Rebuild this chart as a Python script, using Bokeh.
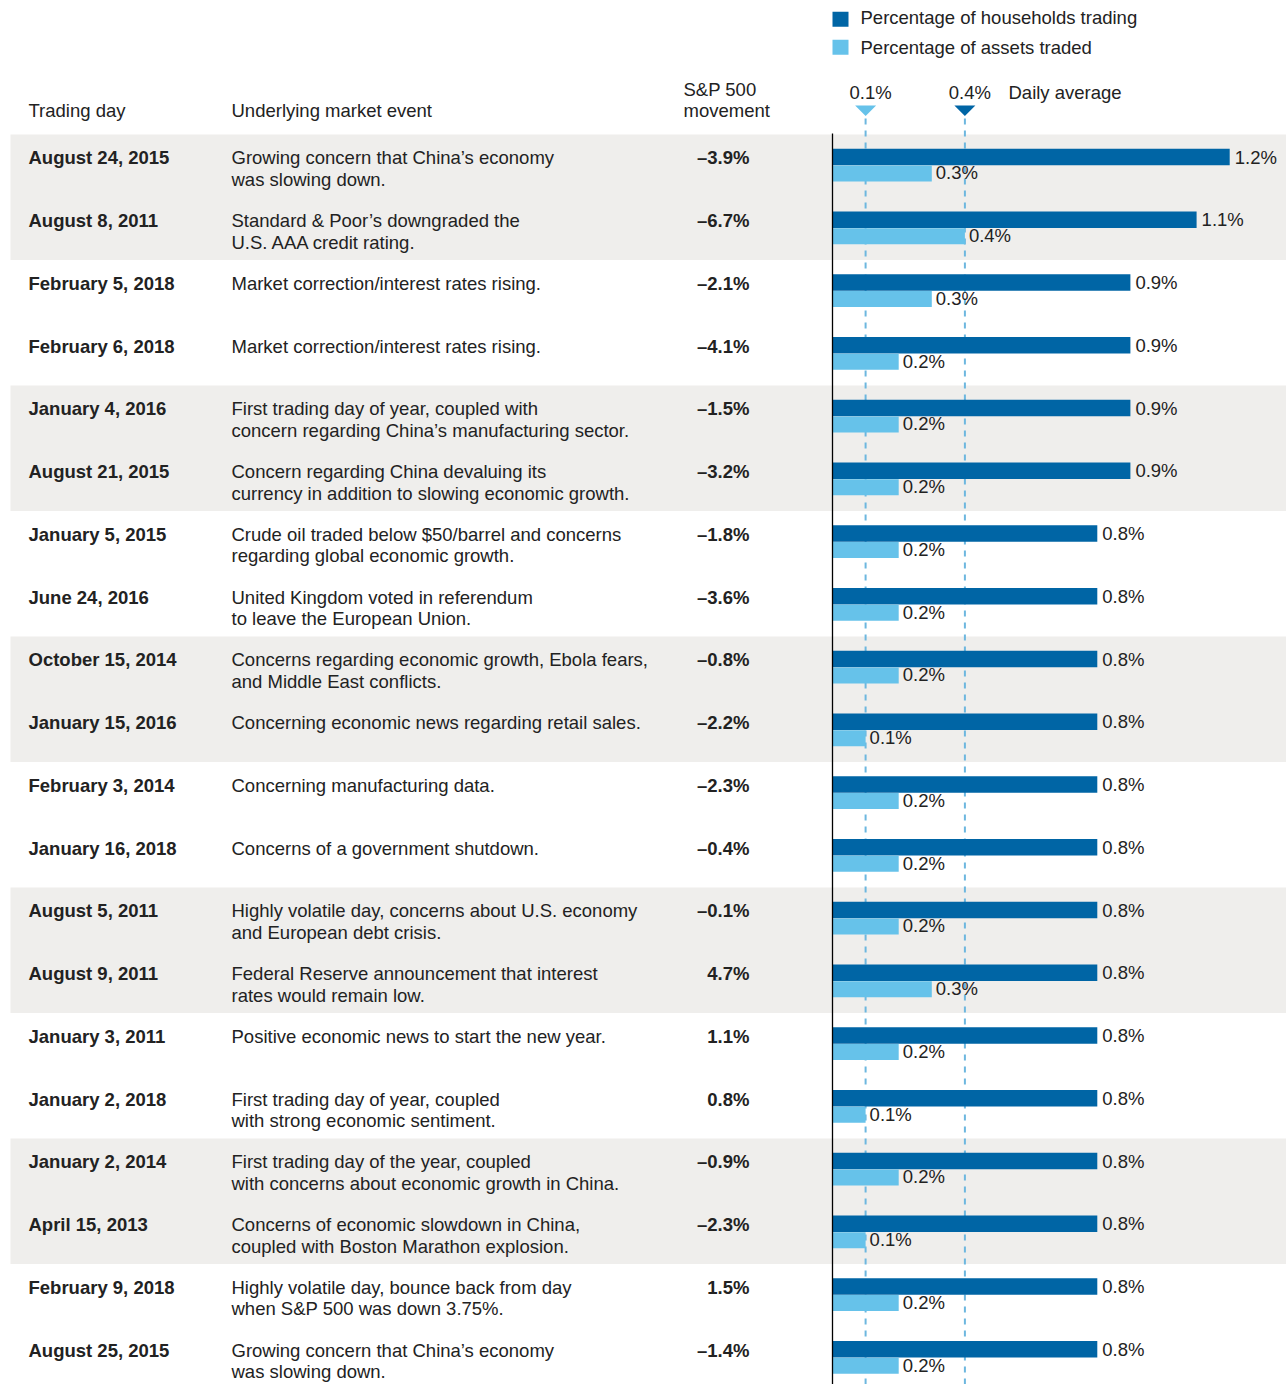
from bokeh.plotting import figure
from bokeh.models import Range1d, ColumnDataSource
from bokeh.core.properties import value
from bokeh.embed import file_html
from bokeh.resources import INLINE

# ---------------- data ----------------
trading_days = [
    "August 24, 2015", "August 8, 2011", "February 5, 2018", "February 6, 2018",
    "January 4, 2016", "August 21, 2015", "January 5, 2015", "June 24, 2016",
    "October 15, 2014", "January 15, 2016", "February 3, 2014", "January 16, 2018",
    "August 5, 2011", "August 9, 2011", "January 3, 2011", "January 2, 2018",
    "January 2, 2014", "April 15, 2013", "February 9, 2018", "August 25, 2015",
]
events = [
    "Growing concern that China\u2019s economy\nwas slowing down.",
    "Standard & Poor\u2019s downgraded the\nU.S. AAA credit rating.",
    "Market correction/interest rates rising.",
    "Market correction/interest rates rising.",
    "First trading day of year, coupled with\nconcern regarding China\u2019s manufacturing sector.",
    "Concern regarding China devaluing its\ncurrency in addition to slowing economic growth.",
    "Crude oil traded below $50/barrel and concerns\nregarding global economic growth.",
    "United Kingdom voted in referendum\nto leave the European Union.",
    "Concerns regarding economic growth, Ebola fears,\nand Middle East conflicts.",
    "Concerning economic news regarding retail sales.",
    "Concerning manufacturing data.",
    "Concerns of a government shutdown.",
    "Highly volatile day, concerns about U.S. economy\nand European debt crisis.",
    "Federal Reserve announcement that interest\nrates would remain low.",
    "Positive economic news to start the new year.",
    "First trading day of year, coupled\nwith strong economic sentiment.",
    "First trading day of the year, coupled\nwith concerns about economic growth in China.",
    "Concerns of economic slowdown in China,\ncoupled with Boston Marathon explosion.",
    "Highly volatile day, bounce back from day\nwhen S&P 500 was down 3.75%.",
    "Growing concern that China\u2019s economy\nwas slowing down.",
]
sp500_moves = [-3.9, -6.7, -2.1, -4.1, -1.5, -3.2, -1.8, -3.6, -0.8, -2.2,
               -2.3, -0.4, -0.1, 4.7, 1.1, 0.8, -0.9, -2.3, 1.5, -1.4]
households_pct = [1.2, 1.1, 0.9, 0.9, 0.9, 0.9, 0.8, 0.8, 0.8, 0.8,
                  0.8, 0.8, 0.8, 0.8, 0.8, 0.8, 0.8, 0.8, 0.8, 0.8]
assets_pct = [0.3, 0.4, 0.3, 0.2, 0.2, 0.2, 0.2, 0.2, 0.2, 0.1,
              0.2, 0.2, 0.2, 0.3, 0.2, 0.1, 0.2, 0.1, 0.2, 0.2]
series_names = ["Percentage of households trading", "Percentage of assets traded"]
daily_avg = [0.1, 0.4]            # assets traded, households trading
daily_avg_label = "Daily average"
headers = ["Trading day", "Underlying market event", "S&P 500\nmovement"]

# ---------------- style / layout ----------------
DARK = "#0065a5"
LIGHT = "#66c2ea"
SHADE = "#efeeec"
TXT = "#222222"
DASH = "#6db7df"
FONT = value("Liberation Sans")
FS = "18.5px"

PX_L, PX_R, PX_T, PX_B = 0, 1286, 0, 1384     # visible region (px)
BASE_X, PX_PER_PCT = 832, 331.0               # bar baseline, px per 1 %
ROW_TOP0, ROW_H = 134.0, 62.75                # first row top, row height
TDY = -7.0                                    # text vertical correction (px)
TR = TDY / ROW_H                              # same, in row units

def fmt_pct(v):
    return ("\u2013" if v < 0 else "") + f"{abs(v):.1f}%"

n = len(trading_days)
rows = list(range(n))

p = figure(width=PX_R - PX_L, height=PX_B - PX_T,
           x_range=Range1d(PX_L, PX_R), y_range=Range1d(PX_B, PX_T),
           x_axis_type=None, y_axis_type=None,
           toolbar_location=None, output_backend="svg",
           min_border=0, min_border_left=0, min_border_right=0,
           min_border_top=0, min_border_bottom=0)
p.outline_line_color = None
p.background_fill_color = "white"
p.border_fill_color = "white"
p.extra_x_ranges = {"pct": Range1d((PX_L - BASE_X) / PX_PER_PCT, (PX_R - BASE_X) / PX_PER_PCT)}
p.extra_y_ranges = {"row": Range1d((PX_B - ROW_TOP0) / ROW_H, (PX_T - ROW_TOP0) / ROW_H)}

# shaded bands (pairs of rows)
band_tops = [i for i in rows if i % 4 == 0]
p.quad(left=10, right=1300, top=band_tops, bottom=[t + 2 for t in band_tops],
       y_range_name="row", fill_color=SHADE, line_color=None)

# daily-average dashed lines and triangles
p.segment(x0=daily_avg, x1=daily_avg, y0=118, y1=PX_B + 10, x_range_name="pct",
          line_color=DASH, line_width=2, line_dash="6 6")
tw = 10.5 / PX_PER_PCT
p.patches(xs=[[a - tw, a + tw, a] for a in daily_avg], ys=[[105, 105, 115.5]] * 2,
          x_range_name="pct", fill_color=[LIGHT, DARK], line_color=None)
p.text(x=daily_avg, y=[98.5 + TDY] * 2, text=[fmt_pct(a) for a in daily_avg],
       x_range_name="pct", x_offset=5, text_align="center", text_baseline="alphabetic",
       text_font=FONT, text_font_size=FS, text_color=TXT)
p.text(x=[1008], y=[98.5 + TDY], text=[daily_avg_label], text_align="left",
       text_baseline="alphabetic", text_font=FONT, text_font_size=FS, text_color=TXT)

# bars
src = ColumnDataSource(dict(
    yh=[r + 0.359 for r in rows], ya=[r + 0.620 for r in rows],
    yhl=[r + 0.473 + TR for r in rows], yal=[r + 0.725 + TR for r in rows],
    hh=households_pct, aa=assets_pct,
    hlab=[fmt_pct(v) for v in households_pct], alab=[fmt_pct(v) for v in assets_pct],
))
p.hbar(y="yh", left=0, right="hh", height=0.261, source=src,
       x_range_name="pct", y_range_name="row", fill_color=DARK, line_color=None)
p.hbar(y="ya", left=0, right="aa", height=0.255, source=src,
       x_range_name="pct", y_range_name="row", fill_color=LIGHT, line_color=None)
p.text(x="hh", y="yhl", text="hlab", source=src, x_range_name="pct", y_range_name="row",
       x_offset=5, text_align="left", text_baseline="alphabetic",
       text_font=FONT, text_font_size=FS, text_color=TXT)
p.text(x="aa", y="yal", text="alab", source=src, x_range_name="pct", y_range_name="row",
       x_offset=4, text_align="left", text_baseline="alphabetic",
       text_font=FONT, text_font_size=FS, text_color=TXT)

# baseline axis line
p.segment(x0=[0], x1=[0], y0=[133], y1=[PX_B + 10], x_range_name="pct",
          line_color="black", line_width=1.3)

# table text
line1 = [e.split("\n")[0] for e in events]
line2 = [e.split("\n")[1] if "\n" in e else "" for e in events]
tsrc = ColumnDataSource(dict(
    y1=[r + 0.483 + TR for r in rows], y2=[r + 0.826 + TR for r in rows],
    day=trading_days, l1=line1, l2=line2, sp=[fmt_pct(v) for v in sp500_moves],
))
p.text(x=28, y="y1", text="day", source=tsrc, y_range_name="row",
       text_align="left", text_baseline="alphabetic", text_font=FONT,
       text_font_size=FS, text_font_style="bold", text_color=TXT)
p.text(x=231, y="y1", text="l1", source=tsrc, y_range_name="row",
       text_align="left", text_baseline="alphabetic", text_font=FONT,
       text_font_size=FS, text_color=TXT)
p.text(x=231, y="y2", text="l2", source=tsrc, y_range_name="row",
       text_align="left", text_baseline="alphabetic", text_font=FONT,
       text_font_size=FS, text_color=TXT)
p.text(x=749, y="y1", text="sp", source=tsrc, y_range_name="row",
       text_align="right", text_baseline="alphabetic", text_font=FONT,
       text_font_size=FS, text_font_style="bold", text_color=TXT)

# headers
hdr_x = [28, 231, 683]
hx, hy, ht = [], [], []
for x, h in zip(hdr_x, headers):
    parts = h.split("\n")
    for k, part in enumerate(parts):
        hx.append(x)
        hy.append(117 + TDY - 21.5 * (len(parts) - 1 - k))
        ht.append(part)
p.text(x=hx, y=hy, text=ht, text_align="left", text_baseline="alphabetic",
       text_font=FONT, text_font_size=FS, text_color=TXT)

# legend
p.rect(x=[840, 840], y=[18.7, 46.8], width=16, height=15, fill_color=[DARK, LIGHT], line_color=None)
p.text(x=[860, 860], y=[23.5 + TDY, 54 + TDY], text=series_names, text_align="left",
       text_baseline="alphabetic", text_font=FONT, text_font_size=FS, text_color=TXT)

open("out.html", "w").write(file_html(p, INLINE))
